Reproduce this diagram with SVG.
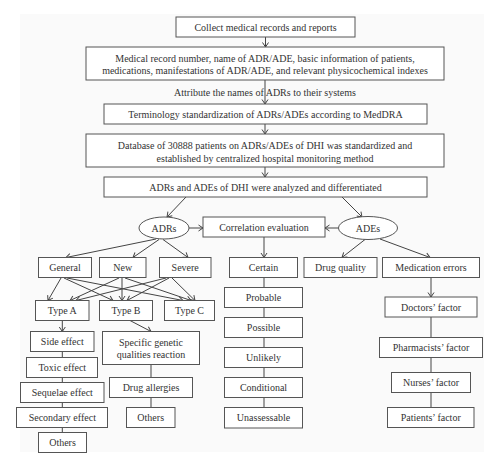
<svg xmlns="http://www.w3.org/2000/svg" width="500" height="470" viewBox="0 0 500 470">
<defs>
<marker id="ah" viewBox="-6 -4 7 8" markerWidth="7" markerHeight="8" refX="0" refY="0" orient="auto" markerUnits="userSpaceOnUse">
<path d="M-4.5,-3 L0,0 L-4.5,3" fill="none" stroke="#444" stroke-width="1"/>
</marker>
</defs>
<style>
rect.b{fill:#fff;stroke:#555;stroke-width:1}
ellipse.b{fill:#fff;stroke:#555;stroke-width:1}
text{font-family:"Liberation Serif",serif;font-size:10px;fill:#333;text-anchor:middle}
#connectors line{stroke:#444;stroke-width:1}
#connectors line.a{marker-end:url(#ah)}
</style>
<rect x="0" y="0" width="500" height="470" fill="#fff"/>
<rect x="20" y="14" width="464" height="438" fill="#fafafa"/>
<g id="connectors">
<line class="a" x1="265.5" y1="37" x2="265.5" y2="47"/>
<line class="a" x1="265" y1="80" x2="265" y2="104"/>
<line class="a" x1="265" y1="124" x2="265" y2="134"/>
<line class="a" x1="265" y1="167" x2="265" y2="177"/>
<line class="a" x1="186" y1="197" x2="167" y2="217"/>
<line class="a" x1="342" y1="197" x2="362" y2="217"/>
<line class="a" x1="189" y1="228" x2="203" y2="228"/>
<line class="a" x1="338.5" y1="228" x2="325" y2="228"/>
<line class="a" x1="264" y1="237" x2="264" y2="257.5"/>
<line class="a" x1="156" y1="239" x2="66" y2="257.5"/>
<line class="a" x1="159" y1="239.5" x2="133" y2="257.5"/>
<line class="a" x1="163" y1="239.5" x2="188" y2="257.5"/>
<line class="a" x1="365" y1="239.5" x2="342" y2="257.5"/>
<line class="a" x1="380" y1="239" x2="430" y2="257.5"/>
<line class="a" x1="431" y1="277.5" x2="431" y2="297"/>
<line x1="431" y1="317" x2="431" y2="337.5"/>
<line x1="431" y1="357.5" x2="431" y2="372.5"/>
<line x1="431" y1="392.5" x2="431" y2="407.5"/>
<line x1="264" y1="277.5" x2="264" y2="287.5"/>
<line x1="264" y1="307.5" x2="264" y2="317.5"/>
<line x1="264" y1="337.5" x2="264" y2="347.5"/>
<line x1="264" y1="367.5" x2="264" y2="377.5"/>
<line x1="264" y1="397.5" x2="264" y2="407.5"/>
<line class="a" x1="61" y1="278" x2="48" y2="300.5"/>
<line class="a" x1="64" y1="278" x2="113" y2="300.5"/>
<line class="a" x1="67" y1="278" x2="183" y2="300.5"/>
<line class="a" x1="119" y1="278" x2="70" y2="300.5"/>
<line class="a" x1="122" y1="278" x2="122" y2="300.5"/>
<line class="a" x1="125" y1="278" x2="191" y2="300.5"/>
<line class="a" x1="166" y1="278" x2="76" y2="300.5"/>
<line class="a" x1="169" y1="278" x2="127" y2="300.5"/>
<line class="a" x1="172" y1="278" x2="195" y2="300.5"/>
<line class="a" x1="62.3" y1="320.5" x2="62.3" y2="331.5"/>
<line x1="62.3" y1="351.5" x2="62.3" y2="357.5"/>
<line x1="62.3" y1="377.5" x2="62.3" y2="382.5"/>
<line x1="62.3" y1="402.5" x2="62.3" y2="407.5"/>
<line x1="62.3" y1="427.5" x2="62.3" y2="432.5"/>
<line class="a" x1="130" y1="320.5" x2="151" y2="331.5"/>
<line x1="151" y1="364.5" x2="151" y2="377.5"/>
<line x1="151" y1="397.5" x2="151" y2="407.5"/>
</g>
<g id="collect"><rect class="b" x="176" y="17" width="179" height="20"/><text x="265.5" y="30.5">Collect medical records and reports</text></g>
<g id="record"><rect class="b" x="86" y="47" width="358" height="33"/><text x="265" y="61.5">Medical record number, name of ADR/ADE, basic information of patients,</text><text x="265" y="74">medications, manifestations of ADR/ADE, and relevant physicochemical indexes</text></g>
<text x="265" y="96">Attribute the names of ADRs to their systems</text>
<g id="terminology"><rect class="b" x="104" y="104" width="323" height="20"/><text x="265.5" y="117.5">Terminology standardization of ADRs/ADEs according to MedDRA</text></g>
<g id="database"><rect class="b" x="86" y="134" width="358" height="33"/><text x="265" y="148.5">Database of 30888 patients on ADRs/ADEs of DHI was standardized and</text><text x="265" y="161.5">established by centralized hospital monitoring method</text></g>
<g id="analyzed"><rect class="b" x="104" y="177" width="323" height="20"/><text x="265.5" y="190.5">ADRs and ADEs of DHI were analyzed and differentiated</text></g>
<g id="adrs"><ellipse class="b" cx="164" cy="228" rx="25" ry="11"/><text x="164" y="231.5">ADRs</text></g>
<g id="correlation"><rect class="b" x="203" y="217" width="122" height="20"/><text x="264" y="230.5">Correlation evaluation</text></g>
<g id="ades"><ellipse class="b" cx="368" cy="228" rx="29.5" ry="11.5"/><text x="368" y="231.5">ADEs</text></g>
<g id="general"><rect class="b" x="38.5" y="257.5" width="53" height="20"/><text x="65" y="271">General</text></g>
<g id="new"><rect class="b" x="99.5" y="257.5" width="46.5" height="20"/><text x="122.7" y="271">New</text></g>
<g id="severe"><rect class="b" x="159.5" y="257.5" width="51.5" height="20"/><text x="185.2" y="271">Severe</text></g>
<g id="certain"><rect class="b" x="229.5" y="257.5" width="68" height="20"/><text x="263.5" y="271">Certain</text></g>
<g id="drugquality"><rect class="b" x="304" y="257.5" width="73" height="20"/><text x="340.5" y="271">Drug quality</text></g>
<g id="mederrors"><rect class="b" x="382.5" y="257.5" width="97" height="20"/><text x="431" y="271">Medication errors</text></g>
<g id="typeA"><rect class="b" x="35.5" y="300.5" width="53.5" height="20"/><text x="62.3" y="314">Type A</text></g>
<g id="typeB"><rect class="b" x="99.5" y="300.5" width="53" height="20"/><text x="126" y="314">Type B</text></g>
<g id="typeC"><rect class="b" x="164.5" y="300.5" width="50" height="20"/><text x="189.5" y="314">Type C</text></g>
<g id="probable"><rect class="b" x="224.5" y="287.5" width="78" height="20"/><text x="263.5" y="301">Probable</text></g>
<g id="possible"><rect class="b" x="224.5" y="317.5" width="78" height="20"/><text x="263.5" y="331">Possible</text></g>
<g id="unlikely"><rect class="b" x="224.5" y="347.5" width="78" height="20"/><text x="263.5" y="361">Unlikely</text></g>
<g id="conditional"><rect class="b" x="224.5" y="377.5" width="78" height="20"/><text x="263.5" y="391">Conditional</text></g>
<g id="unassessable"><rect class="b" x="224.5" y="407.5" width="78" height="20.5"/><text x="263.5" y="421">Unassessable</text></g>
<g id="doctors"><rect class="b" x="385" y="297" width="92" height="20"/><text x="431" y="310.5">Doctors’ factor</text></g>
<g id="pharmacists"><rect class="b" x="379.5" y="337.5" width="103" height="20"/><text x="431" y="351">Pharmacists’ factor</text></g>
<g id="nurses"><rect class="b" x="391.5" y="372.5" width="79" height="20"/><text x="431" y="386">Nurses’ factor</text></g>
<g id="patients"><rect class="b" x="387.5" y="407.5" width="86.5" height="20"/><text x="430.7" y="421">Patients’ factor</text></g>
<g id="side"><rect class="b" x="30.5" y="331.5" width="63.5" height="20"/><text x="62.3" y="345">Side effect</text></g>
<g id="toxic"><rect class="b" x="26.5" y="357.5" width="71" height="20"/><text x="62.3" y="371">Toxic effect</text></g>
<g id="sequelae"><rect class="b" x="20.5" y="382.5" width="83.5" height="20"/><text x="62.3" y="396">Sequelae effect</text></g>
<g id="secondary"><rect class="b" x="16.5" y="407.5" width="91" height="20"/><text x="62.3" y="421">Secondary effect</text></g>
<g id="othersA"><rect class="b" x="38.5" y="432.5" width="48" height="20"/><text x="62.5" y="446">Others</text></g>
<g id="specific"><rect class="b" x="102.5" y="331.5" width="97" height="33"/><text x="151" y="346">Specific genetic</text><text x="151" y="358">qualities reaction</text></g>
<g id="allergies"><rect class="b" x="109.5" y="377.5" width="83" height="20"/><text x="151" y="391">Drug allergies</text></g>
<g id="othersB"><rect class="b" x="126.5" y="407.5" width="48.5" height="20"/><text x="150.7" y="421">Others</text></g>
</svg>
